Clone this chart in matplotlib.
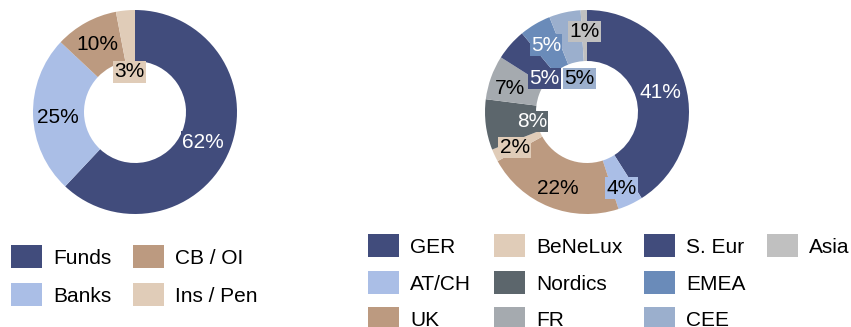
import matplotlib
matplotlib.use("Agg")
import matplotlib.pyplot as plt
import numpy as np
from matplotlib.patches import Rectangle

plt.rcParams['font.family'] = ['Liberation Sans', 'DejaVu Sans']

# Investor type split
investor_types = ['Funds', 'Banks', 'CB / OI', 'Ins / Pen']
investor_share = [62, 25, 10, 3]
investor_colors = ['#414C7C', '#AABEE6', '#BC9A80', '#E0CCB8']
investor_text = ['white', 'black', 'black', 'black']

# Regional split
regions = ['GER', 'AT/CH', 'UK', 'BeNeLux', 'Nordics', 'FR',
           'S. Eur', 'EMEA', 'CEE', 'Asia']
region_share = [41, 4, 22, 2, 8, 7, 5, 5, 5, 1]
region_colors = ['#414C7C', '#AABEE6', '#BC9A80', '#E0CCB8', '#5C666C',
                 '#A5AAAF', '#414C7C', '#6A8BB9', '#9BAFCD', '#C0C0C0']
region_text = ['white', 'black', 'black', 'black', 'white',
               'black', 'white', 'white', 'black', 'black']

W, H = 851, 327
FS = 15
fig = plt.figure(figsize=(W / 100, H / 100), dpi=100)


def donut(cx, cy, r, values, colors, text_colors, nudges):
    ax = fig.add_axes([(cx - r) / W, (H - cy - r) / H, 2 * r / W, 2 * r / H])
    wedges, _ = ax.pie(values, colors=colors, startangle=90, counterclock=False,
                       radius=1, wedgeprops=dict(width=0.5, linewidth=0))
    ax.set_xlim(-1, 1)
    ax.set_ylim(-1, 1)
    ax.set_aspect('equal')
    ax.axis('off')
    for w, v, c, tc, (dx, dy) in zip(wedges, values, colors, text_colors, nudges):
        ang = np.deg2rad((w.theta1 + w.theta2) / 2)
        x = 0.75 * np.cos(ang) + dx / r
        y = 0.75 * np.sin(ang) - dy / r
        ax.text(x, y, f'{v}%', ha='center', va='center', color=tc, fontsize=FS,
                bbox=dict(boxstyle='square,pad=0.06', fc=c, ec='none'),
                clip_on=False)


def legend(labels, colors, col_x, row_y, sw=31, sh=23, gap=11):
    nrows = len(row_y)
    for i, (lab, c) in enumerate(zip(labels, colors)):
        col, row = divmod(i, nrows)
        x0 = col_x[col]
        yc = row_y[row]
        fig.add_artist(Rectangle((x0 / W, 1 - (yc + sh / 2) / H), sw / W, sh / H,
                                 transform=fig.transFigure, fc=c, ec='none'))
        fig.text((x0 + sw + gap) / W, 1 - yc / H, lab, fontsize=FS,
                 ha='left', va='center_baseline', color='black')


donut(135, 112, 102, investor_share, investor_colors, investor_text,
      [(-3, 2), (-1, 3), (-1, 0), (2, 36)])
donut(587, 112, 102, region_share, region_colors, region_text,
      [(0, 2), (2, 7), (-1, 5), (-3, 3), (21, 0), (-5, 2),
       (15, 17), (-2, -1), (9, 41), (0, -4)])

legend(investor_types, investor_colors, [11, 133], [256.5, 294.5])
legend(regions, region_colors, [368, 494, 644, 767], [245.5, 282.5, 319])

fig.savefig('out.png', dpi=100)
